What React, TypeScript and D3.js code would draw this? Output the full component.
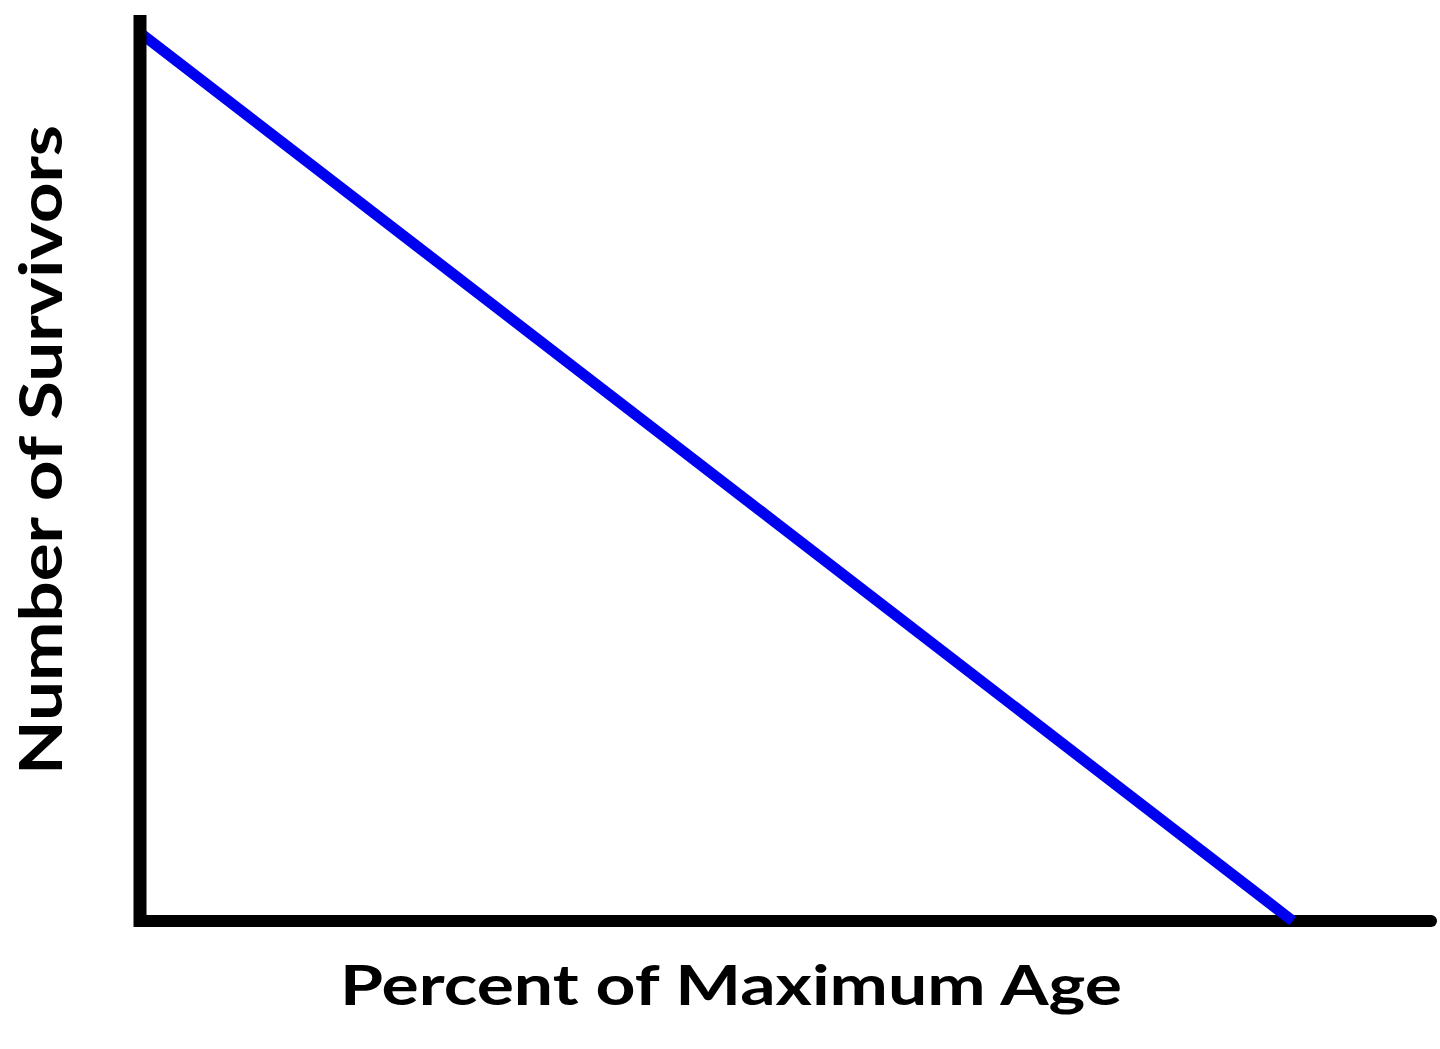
import React from "react";
import * as d3 from "d3";

const ages: number[] = [0, 100];
const survivors: number[] = [100, 0];
const xLabel = "Percent of Maximum Age";
const yLabel = "Number of Survivors";

const W = 1440;
const H = 1049;

export default function App() {
  const x = d3.scaleLinear().domain([0, 112]).range([140, 1431]);
  const y = d3.scaleLinear().domain([0, 102]).range([921, 15]);
  const pts: [number, number][] = ages.map((a, i) => [a, survivors[i]]);
  const line = d3
    .line<[number, number]>()
    .x((d) => x(d[0]))
    .y((d) => y(d[1]));
  const [x0, x1] = x.range();
  const [y0, y1] = y.range();
  return (
    <svg
      width={W}
      height={H}
      style={{ position: "absolute", left: 0, top: 0, background: "#fff" }}
    >
      <rect width={W} height={H} fill="#fff" />
      {/* x axis */}
      <line x1={x0} y1={y0} x2={x1} y2={y0} stroke="#000" strokeWidth={12} strokeLinecap="round" />
      {/* survivorship line */}
      <path d={line(pts) || ""} fill="none" stroke="#0000f0" strokeWidth={11} strokeLinecap="butt" />
      {/* y axis */}
      <line x1={x0} y1={y1} x2={x0} y2={y0 + 6} stroke="#000" strokeWidth={13} strokeLinecap="butt" />
      <text
        x={731}
        y={1005}
        textAnchor="middle"
        fontFamily="Lato, 'Open Sans', sans-serif"
        fontWeight={700}
        fontSize={56}
        textLength={782}
        lengthAdjust="spacingAndGlyphs"
        fill="#000"
      >
        {xLabel}
      </text>
      <text
        transform="translate(62,450) rotate(-90)"
        textAnchor="middle"
        fontFamily="Lato, 'Open Sans', sans-serif"
        fontWeight={700}
        fontSize={60}
        textLength={650}
        lengthAdjust="spacingAndGlyphs"
        fill="#000"
      >
        {yLabel}
      </text>
    </svg>
  );
}
